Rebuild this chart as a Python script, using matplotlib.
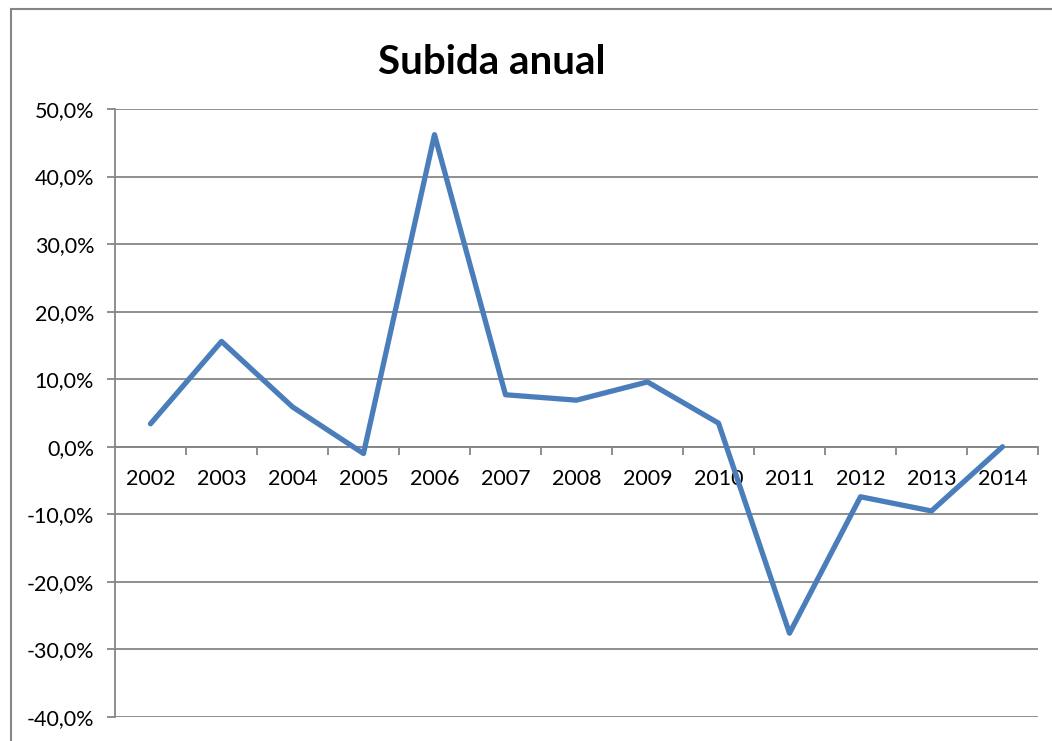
import matplotlib
matplotlib.use("Agg")
import matplotlib.pyplot as plt
from matplotlib.patches import Rectangle
from matplotlib.ticker import FuncFormatter, FixedLocator

plt.rcParams["font.family"] = ["Lato", "DejaVu Sans"]

years = ["2002", "2003", "2004", "2005", "2006", "2007", "2008",
         "2009", "2010", "2011", "2012", "2013", "2014"]
subida = [3.4, 15.6, 5.9, -1.0, 46.2, 7.7, 6.9, 9.6, 3.5, -27.6, -7.4, -9.5, 0.0]
yticks = [-40, -30, -20, -10, 0, 10, 20, 30, 40, 50]

GRID = "#868686"
BLUE = "#4A7EBB"

fig = plt.figure(figsize=(10.52, 7.41), dpi=100)
ax = fig.add_axes([115/1052, 1-717/741, (1038-115)/1052, (717-109)/741])

# outer chart frame (only left and top visible in the crop)
fig.add_artist(Rectangle((11/1052, -0.1), 1.2, 1-9/741+0.1, transform=fig.transFigure,
                         fill=False, edgecolor=GRID, lw=1.5))

x = list(range(len(years)))
ax.plot(x, subida, color=BLUE, lw=3.8, solid_joinstyle="round", solid_capstyle="round",
        clip_on=False, zorder=3)

ax.set_xlim(-0.5, len(years)-0.5)
ax.set_ylim(-40, 50)
ax.yaxis.set_major_locator(FixedLocator(yticks))
ax.yaxis.set_major_formatter(FuncFormatter(lambda v, p: f"{v:.1f}%".replace(".", ",")))
ax.grid(axis="y", color=GRID, lw=1.3)
ax.set_axisbelow(True)

ax.set_xticks(x)
ax.set_xticklabels(years)
ax.set_xticks([i+0.5 for i in range(len(years))], minor=True)
ax.tick_params(axis="x", which="major", length=0, pad=16, labelsize=15.5)
ax.tick_params(axis="x", which="minor", length=6, width=1.3, color=GRID, direction="out")
ax.tick_params(axis="y", length=6, width=1.3, color=GRID, pad=9, labelsize=15.5)

for s in ("top", "right"):
    ax.spines[s].set_visible(False)
ax.spines["bottom"].set_position(("data", 0))
for s in ("left", "bottom"):
    ax.spines[s].set_color(GRID)
    ax.spines[s].set_linewidth(1.3)

fig.text(491.5/1052, 1-74.3/741, "Subida anual", ha="center", va="baseline",
         fontsize=29, fontweight="bold")

fig.savefig("out.png", dpi=100)
